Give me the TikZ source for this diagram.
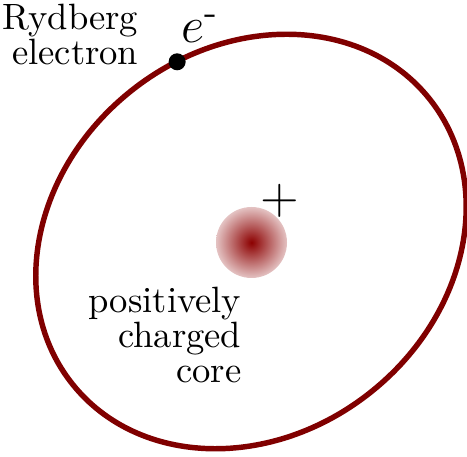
\documentclass[tikz,border=0pt]{standalone}
\usepackage{amsmath}
\usetikzlibrary{calc}
\definecolor{orbitred}{RGB}{128,0,0}
\definecolor{coreinner}{RGB}{140,0,0}
\definecolor{coreouter}{RGB}{228,195,195}
\tikzset{
  orbit/.style={draw=orbitred, line width=1.55pt},
  label text/.style={inner sep=0pt, align=right, font=\fontsize{10.4}{10}\selectfont},
}
\begin{document}
\begin{tikzpicture}[x=0.284pt,y=-0.284pt]
\useasboundingbox (0,0) rectangle (467,457);
\coordinate (c) at (251,241.5);
% orbit
\begin{scope}[rotate around={38.6:(c)}]
  \draw[orbit] (c) ellipse [x radius=228.5, y radius=192.5];
  \coordinate (epos) at ($(c)+(54.4,-186.5)$);
\end{scope}
% core
\node[circle, minimum size=71*0.284pt, inner sep=0pt, shading=radial, inner color=coreinner, outer color=coreouter] (core) at (251.5,242.5) {};
\node[inner sep=0pt, font=\fontsize{13.5}{14}\selectfont] (plus) at (279.5,200.5) {$+$};
% electron
\node[circle, fill=black, minimum size=17*0.284pt, inner sep=0pt] (el) at (epos) {};
\node[inner sep=0pt, anchor=base west, font=\fontsize{15.5}{17}\selectfont] (elabel) at (181,43) {$e^{\smash{\text{-}}}$};
% labels
\node[label text, anchor=north east] (ryd) at (139,3) {Rydberg\\electron};
\node[label text, anchor=north east] (corelabel) at (242,286) {positively\\charged\\core};
\end{tikzpicture}
\end{document}
